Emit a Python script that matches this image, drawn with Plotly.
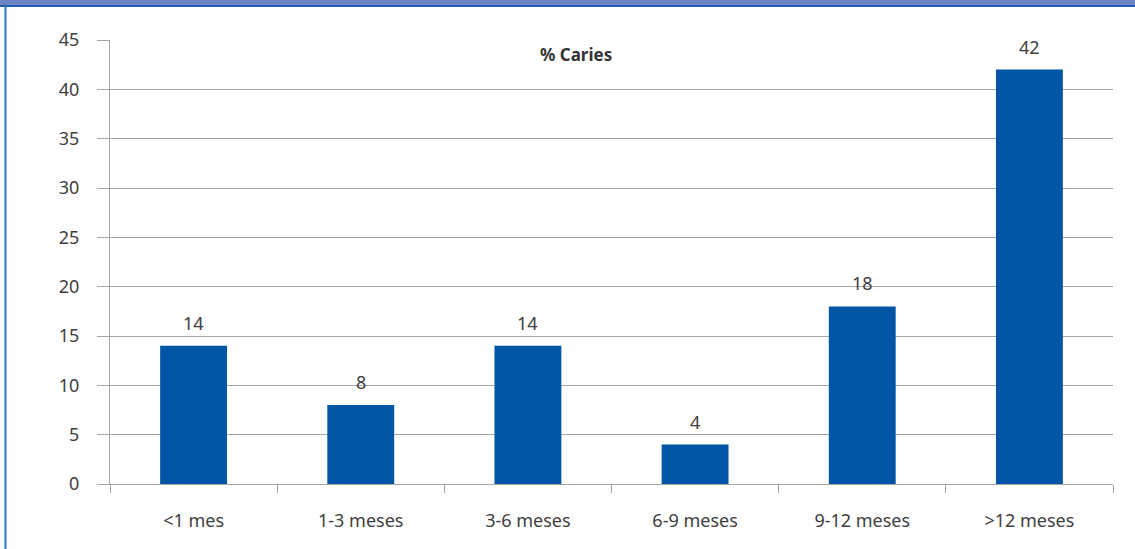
import plotly.graph_objects as go

categories = ["<1 mes", "1-3 meses", "3-6 meses", "6-9 meses", "9-12 meses", ">12 meses"]
caries_pct = [14, 8, 14, 4, 18, 42]
y_ticks = [0, 5, 10, 15, 20, 25, 30, 35, 40, 45]

W, H = 1135, 549
ML, MR, MT, MB = 110, 22, 40, 65
PH = H - MT - MB
PW = W - ML - MR

FONT = "Noto Sans, Open Sans, sans-serif"
BAR = "#0055a5"
GRID = "#a6a6a6"
TXT = "#404040"

fig = go.Figure(
    go.Bar(
        x=categories,
        y=caries_pct,
        marker=dict(color=BAR, line=dict(width=0)),
        width=0.4,
        hoverinfo="x+y",
    )
)

# value labels above each bar
annotations = [
    dict(x=c, y=v, xref="x", yref="y", text=str(v), showarrow=False,
         yanchor="bottom", yshift=9,
         font=dict(family=FONT, size=18, color=TXT))
    for c, v in zip(categories, caries_pct)
]
annotations.append(
    dict(
        text="<b>% Caries</b>",
        x=0.465, y=1 - (54 - MT) / PH,
        xref="paper", yref="paper",
        showarrow=False,
        font=dict(family=FONT, size=17, color="#333333"),
        xanchor="center", yanchor="middle",
    )
)

fig.update_layout(
    width=W,
    height=H,
    margin=dict(l=ML, r=MR, t=MT, b=MB),
    paper_bgcolor="white",
    plot_bgcolor="white",
    showlegend=False,
    font=dict(family=FONT, size=18, color=TXT),
    annotations=annotations,
    xaxis=dict(
        showgrid=False,
        showline=True,
        linecolor=GRID,
        linewidth=1,
        ticks="outside",
        ticklen=8,
        tickcolor=GRID,
        tickson="boundaries",
        ticklabelstandoff=20,
        tickfont=dict(family=FONT, size=18, color=TXT),
        range=[-0.5, 5.5],
    ),
    yaxis=dict(
        range=[0, 45],
        tickvals=y_ticks,
        showgrid=True,
        gridcolor=GRID,
        gridwidth=1,
        showline=True,
        linecolor=GRID,
        ticks="outside",
        ticklen=12,
        tickcolor=GRID,
        ticklabelstandoff=14,
        tickfont=dict(family=FONT, size=18, color=TXT),
        zeroline=False,
    ),
)

# frame: blue band along the top and thin blue rule on the left edge
def py(px):
    return 1 - (px - MT) / PH

def px_x(px):
    return (px - ML) / PW

fig.add_shape(type="rect", xref="paper", yref="paper",
              x0=px_x(-2), x1=px_x(W + 2), y0=py(5), y1=py(-4),
              fillcolor="#6b84c4", line=dict(width=0), layer="above")
fig.add_shape(type="rect", xref="paper", yref="paper",
              x0=px_x(-2), x1=px_x(W + 2), y0=py(7), y1=py(5),
              fillcolor="#1f5fae", line=dict(width=0), layer="above")
fig.add_shape(type="rect", xref="paper", yref="paper",
              x0=px_x(4.5), x1=px_x(6.5), y0=py(H + 2), y1=py(6),
              fillcolor="#2a75c8", line=dict(width=0), layer="above")

fig.write_html("out.html")
